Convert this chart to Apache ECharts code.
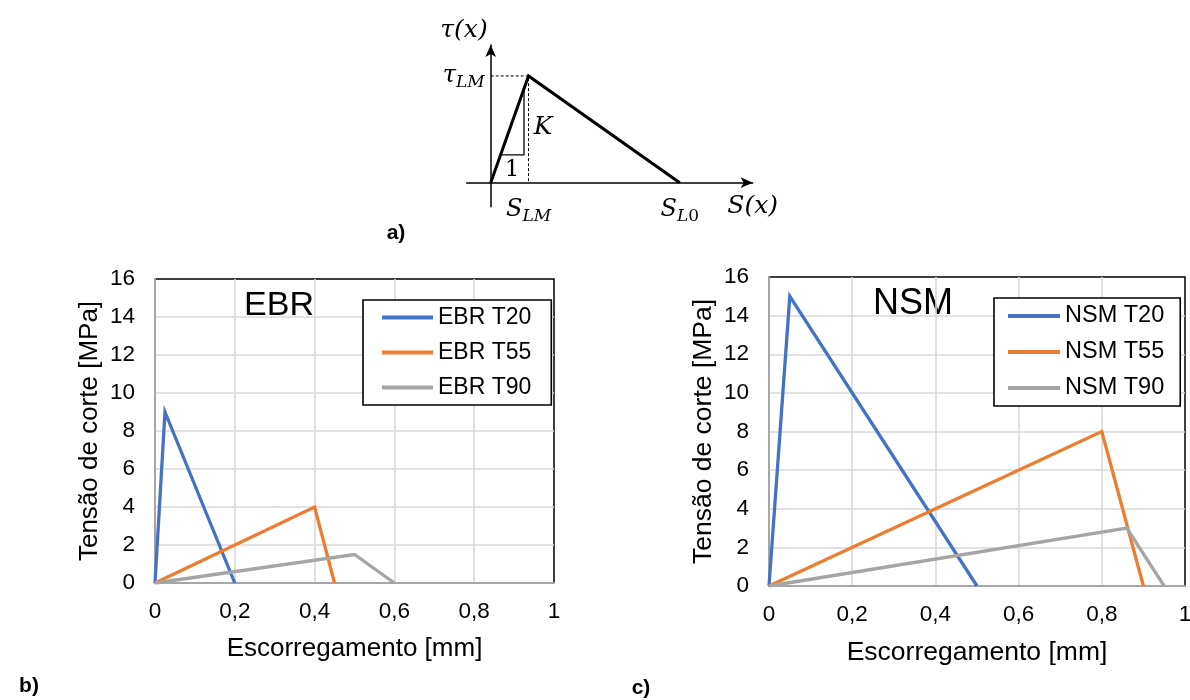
<!DOCTYPE html>
<html>
<head>
<meta charset="utf-8">
<script src="https://cdn.jsdelivr.net/npm/echarts@6/dist/echarts.min.js"></script>
<style>
  html, body { margin: 0; padding: 0; background: #fff; }
  #chart { width: 1190px; height: 700px; }
</style>
</head>
<body>
<div id="chart"></div>
<script>
// slip [mm] / shear stress [MPa] pairs
const ebrT20 = [[0, 0], [0.025, 9], [0.2, 0]]
const ebrT55 = [[0, 0], [0.4, 4], [0.45, 0]]
const ebrT90 = [[0, 0], [0.5, 1.5], [0.6, 0]]
const nsmT20 = [[0, 0], [0.05, 15], [0.5, 0]]
const nsmT55 = [[0, 0], [0.8, 8], [0.9, 0]]
const nsmT90 = [[0, 0], [0.86, 3], [0.95, 0]]

const slipTicks = [0, 0.2, 0.4, 0.6, 0.8, 1]
const stressTicks = [0, 2, 4, 6, 8, 10, 12, 14, 16]

// schematic bond-slip law (a), normalised: S_LM = 1, tau_LM = 1
const lawSlip = [0, 1, 5]
const lawStress = [0, 1, 0]
const slopeTriangle = [[0.26, 0.26], [0.88, 0.26], [0.88, 0.88]]

const colors = ['#4472C4', '#ED7D31', '#A5A5A5']
const FONT = '"Liberation Sans", Arial, sans-serif'
const SERIF = '"DejaVu Serif", "Liberation Serif", serif'

const comma = v => String(Math.round(v * 10) / 10).replace('.', ',')

function plotAxes (gridIndex, nameSize) {
  const x = {
    gridIndex,
    type: 'value',
    min: slipTicks[0],
    max: slipTicks[slipTicks.length - 1],
    interval: slipTicks[1] - slipTicks[0],
    name: 'Escorregamento [mm]',
    nameLocation: 'middle',
    nameGap: 53,
    nameTextStyle: { fontSize: nameSize, color: '#000', fontFamily: FONT },
    axisLine: { show: true, onZero: false, lineStyle: { color: '#a6a6a6', width: 2 } },
    axisTick: { show: false },
    axisLabel: { formatter: comma, fontSize: 22.5, color: '#000', fontFamily: FONT, margin: 17 },
    splitLine: { show: true, showMaxLine: false, showMinLine: false, lineStyle: { color: '#d9d9d9', width: 1.6 } }
  }
  const y = {
    gridIndex,
    type: 'value',
    min: stressTicks[0],
    max: stressTicks[stressTicks.length - 1],
    interval: stressTicks[1] - stressTicks[0],
    name: 'Tensão de corte [MPa]',
    nameLocation: 'middle',
    nameRotate: 90,
    nameGap: 52,
    nameTextStyle: { fontSize: nameSize, color: '#000', fontFamily: FONT },
    axisLine: { show: true, onZero: false, lineStyle: { color: '#a6a6a6', width: 2 } },
    axisTick: { show: false },
    axisLabel: { fontSize: 22.5, color: '#000', fontFamily: FONT, margin: 20 },
    splitLine: { show: true, showMaxLine: false, showMinLine: false, lineStyle: { color: '#d9d9d9', width: 1.6 } }
  }
  return [x, y]
}

function curve (name, data, idx, color) {
  return {
    name,
    type: 'line',
    xAxisIndex: idx,
    yAxisIndex: idx,
    data,
    symbol: 'none',
    color,
    lineStyle: { width: 3.3, color, join: 'miter' },
    z: 3
  }
}

const [ebrX, ebrY] = plotAxes(0, 26)
const [nsmX, nsmY] = plotAxes(1, 26.5)

const subRich = {
  i: { fontFamily: SERIF, fontStyle: 'italic', fontSize: 24, color: '#000', lineHeight: 30 },
  s: { fontFamily: SERIF, fontStyle: 'italic', fontSize: 17, color: '#000', lineHeight: 30, verticalAlign: 'bottom' },
  n: { fontFamily: SERIF, fontSize: 17, color: '#000', lineHeight: 30, verticalAlign: 'bottom' }
}

const lawX = {
  gridIndex: 2,
  type: 'value',
  min: -0.635,
  max: 6.93,
  name: 'S(x)',
  nameLocation: 'end',
  nameGap: 0,
  nameTextStyle: { fontFamily: SERIF, fontStyle: 'italic', fontSize: 25, color: '#000', align: 'center', verticalAlign: 'top', padding: [11, 0, 0, 0] },
  axisLine: { show: true, onZero: true, symbol: ['none', 'arrow'], symbolSize: [8, 12], lineStyle: { color: '#000', width: 1.5 } },
  axisTick: { show: false },
  splitLine: { show: false },
  axisLabel: {
    customValues: [lawSlip[1], lawSlip[2]],
    formatter: v => v === lawSlip[1] ? '{i|S}{s|LM}' : '{i|S}{s|L}{n|0}',
    rich: subRich,
    margin: -12
  }
}
const lawY = {
  gridIndex: 2,
  type: 'value',
  min: -0.225,
  max: 1.29,
  name: 'τ(x)',
  nameLocation: 'end',
  nameGap: 2,
  nameTextStyle: { fontFamily: SERIF, fontStyle: 'italic', fontSize: 25, color: '#000', align: 'right', verticalAlign: 'bottom', padding: [0, 3, 0, 0] },
  axisLine: { show: true, onZero: true, symbol: ['none', 'arrow'], symbolSize: [8, 12], lineStyle: { color: '#000', width: 1.5 } },
  axisTick: { show: false },
  splitLine: { show: false },
  axisLabel: {
    customValues: [lawStress[1]],
    formatter: () => '{i|τ}{s|LM}',
    rich: subRich,
    margin: -18
  }
}

const legendBase = {
  orient: 'vertical',
  icon: 'rect',
  itemHeight: 4,
  itemGap: 12,
  borderColor: '#000',
  borderWidth: 1.6,
  backgroundColor: '#fff',
  borderRadius: 0,
  selectedMode: false
}

const option = {
  animation: false,
  backgroundColor: '#fff',
  grid: [
    { left: 155, top: 279, width: 399, height: 304, show: true, borderColor: '#000', borderWidth: 1.5, backgroundColor: '#fff', outerBoundsMode: 'none', containLabel: false },
    { left: 769, top: 277, width: 416, height: 309, show: true, borderColor: '#000', borderWidth: 1.5, backgroundColor: '#fff', outerBoundsMode: 'none', containLabel: false },
    { left: 466.7, top: 45, width: 286, height: 161.7, show: false, outerBoundsMode: 'none', containLabel: false }
  ],
  xAxis: [ebrX, nsmX, lawX],
  yAxis: [ebrY, nsmY, lawY],
  legend: [
    Object.assign({}, legendBase, {
      data: ['EBR T20', 'EBR T55', 'EBR T90'],
      left: 363,
      top: 300,
      itemWidth: 51,
      padding: [6, 20, 6, 19],
      textStyle: { fontSize: 23, color: '#000', fontFamily: FONT }
    }),
    Object.assign({}, legendBase, {
      data: ['NSM T20', 'NSM T55', 'NSM T90'],
      left: 994,
      top: 298,
      itemWidth: 52,
      padding: [6, 16, 6, 14],
      textStyle: { fontSize: 23.5, color: '#000', fontFamily: FONT }
    })
  ],
  series: [
    curve('EBR T20', ebrT20, 0, colors[0]),
    curve('EBR T55', ebrT55, 0, colors[1]),
    curve('EBR T90', ebrT90, 0, colors[2]),
    curve('NSM T20', nsmT20, 1, colors[0]),
    curve('NSM T55', nsmT55, 1, colors[1]),
    curve('NSM T90', nsmT90, 1, colors[2]),
    {
      name: 'law',
      type: 'line',
      xAxisIndex: 2,
      yAxisIndex: 2,
      data: lawSlip.map((s, i) => [s, lawStress[i]]),
      symbol: 'none',
      lineStyle: { color: '#000', width: 3, join: 'miter' },
      z: 4
    },
    {
      name: 'guides',
      type: 'line',
      xAxisIndex: 2,
      yAxisIndex: 2,
      data: [[0, lawStress[1]], [lawSlip[1], lawStress[1]], [lawSlip[1], 0]],
      symbol: 'none',
      lineStyle: { color: '#000', width: 1, type: [3, 2] }
    },
    {
      name: 'slope',
      type: 'line',
      xAxisIndex: 2,
      yAxisIndex: 2,
      data: slopeTriangle,
      symbol: 'none',
      lineStyle: { color: '#000', width: 1.3 }
    }
  ],
  graphic: [
    { type: 'text', x: 279, y: 306, style: { text: 'EBR', font: '34px ' + FONT, fill: '#000', textAlign: 'center', textVerticalAlign: 'middle' } },
    { type: 'text', x: 913, y: 304, style: { text: 'NSM', font: '36px ' + FONT, fill: '#000', textAlign: 'center', textVerticalAlign: 'middle' } },
    { type: 'text', x: 543, y: 127, style: { text: 'K', font: 'italic 25px ' + SERIF, fill: '#000', textAlign: 'center', textVerticalAlign: 'middle' } },
    { type: 'text', x: 512, y: 170, style: { text: '1', font: '23px ' + SERIF, fill: '#000', textAlign: 'center', textVerticalAlign: 'middle' } },
    { type: 'text', x: 396, y: 233, style: { text: 'a)', font: 'bold 21px ' + FONT, fill: '#000', textAlign: 'center', textVerticalAlign: 'middle' } },
    { type: 'text', x: 29, y: 686, style: { text: 'b)', font: 'bold 21px ' + FONT, fill: '#000', textAlign: 'center', textVerticalAlign: 'middle' } },
    { type: 'text', x: 641, y: 688, style: { text: 'c)', font: 'bold 21px ' + FONT, fill: '#000', textAlign: 'center', textVerticalAlign: 'middle' } }
  ]
}

const myChart = echarts.init(document.getElementById('chart'), null, { renderer: 'canvas' })
myChart.setOption(option)
</script>
</body>
</html>
